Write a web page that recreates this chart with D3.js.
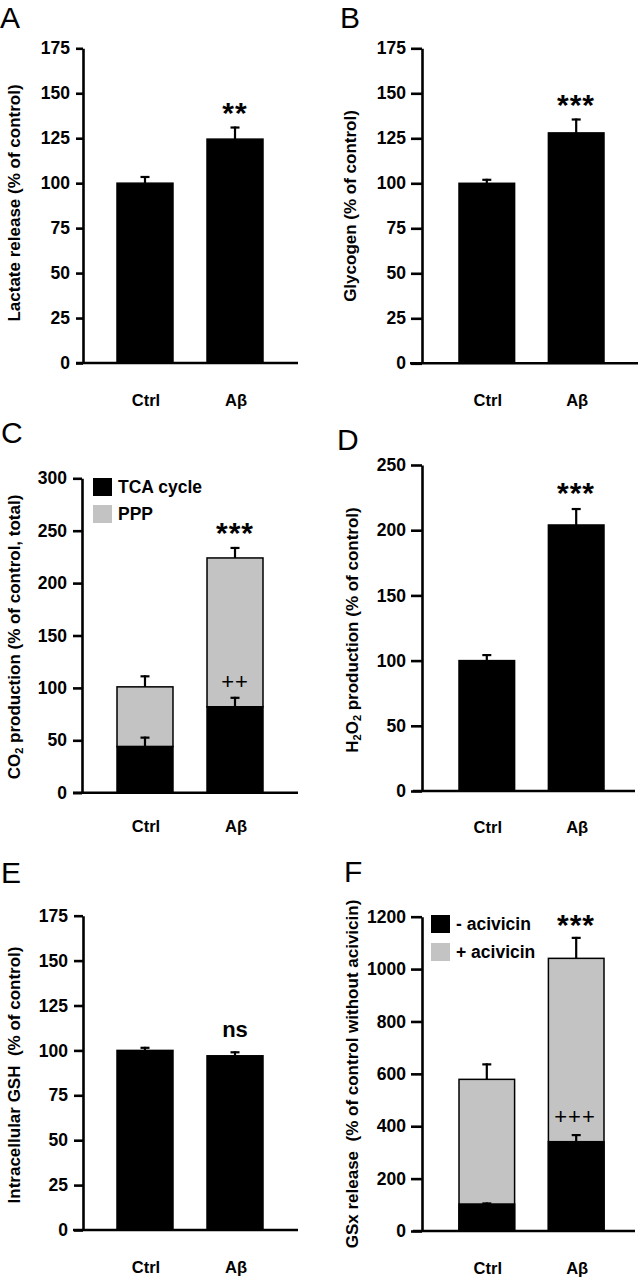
<!DOCTYPE html>
<html>
<head>
<meta charset="utf-8">
<script src="https://cdn.jsdelivr.net/npm/d3@7/dist/d3.min.js"></script>
<style>
  html, body { margin: 0; padding: 0; background: #fff; }
  svg { display: block; }
  text { font-family: "Liberation Sans", Arial, Helvetica, sans-serif; fill: #000; }
</style>
</head>
<body>
<div id="chart"></div>
<script>
// ---------- data ----------
const categories = ["Ctrl", "Aβ"];

const lactate = [100, 124.5];
const lactateErr = [4, 7];

const glycogen = [100, 128];
const glycogenErr = [2.5, 8];

const co2TCA = [44, 82];
const co2TCAErr = [9.5, 9.5];
const co2PPP = [57, 142];
const co2TotalErr = [11, 10.5];

const h2o2 = [100, 204];
const h2o2Err = [5, 13];

const gsh = [100, 97];
const gshErr = [2, 2.5];

const gsxMinus = [103, 341];
const gsxMinusErr = [6, 29];
const gsxPlus = [579, 1041];
const gsxPlusErr = [61, 82];

const ticks175 = [0, 25, 50, 75, 100, 125, 150, 175];
const ticks300 = [0, 50, 100, 150, 200, 250, 300];
const ticks250 = [0, 50, 100, 150, 200, 250];
const ticks1200 = [0, 200, 400, 600, 800, 1000, 1200];

const legendC = ["TCA cycle", "PPP"];
const legendF = ["- acivicin", "+ acivicin"];

const GRAY = "#c3c3c3";

// ---------- drawing ----------
const svg = d3.select("#chart").append("svg")
  .attr("width", 639).attr("height", 1280);

function panel(cfg) {
  const g = svg.append("g");
  const y = d3.scaleLinear().domain([0, cfg.max]).range([cfg.y0, cfg.yTop]);
  const x = d3.scaleBand().domain(categories).range(cfg.xr).paddingInner(0.378).paddingOuter(0);

  // panel letter
  g.append("text").attr("x", cfg.letter[0]).attr("y", cfg.letter[1])
    .attr("font-size", 30).attr("font-weight", "normal").text(cfg.name);

  // bars
  cfg.series.forEach(s => {
    g.selectAll(null).data(categories).enter().append("rect")
      .attr("x", c => x(c))
      .attr("width", x.bandwidth())
      .attr("y", (c, i) => y(s.base[i] + s.vals[i]))
      .attr("height", (c, i) => y(s.base[i]) - y(s.base[i] + s.vals[i]))
      .attr("fill", s.color)
      .attr("stroke", "#000").attr("stroke-width", 1.5);
  });
  // error bars
  cfg.errs.forEach(e => {
    categories.forEach((c, i) => {
      const cx = x(c) + x.bandwidth() / 2;
      const top = y(e.top[i] + e.err[i]);
      g.append("line").attr("x1", cx).attr("x2", cx)
        .attr("y1", y(e.top[i])).attr("y2", top)
        .attr("stroke", "#000").attr("stroke-width", 2.2);
      g.append("line").attr("x1", cx - 4.5).attr("x2", cx + 4.5)
        .attr("y1", top + 1).attr("y2", top + 1)
        .attr("stroke", "#000").attr("stroke-width", 2.2);
    });
  });

  // y axis
  const ax = g.append("g").attr("transform", `translate(${cfg.axisX},0)`)
    .call(d3.axisLeft(y).tickValues(cfg.ticks).tickFormat(d3.format("d"))
      .tickSize(cfg.tickLen).tickSizeOuter(0).tickPadding(cfg.pad));
  ax.select(".domain").attr("stroke-width", 2.6);
  ax.selectAll(".tick line").attr("stroke-width", 2.6);
  ax.selectAll(".tick text").attr("font-size", 17.5).attr("font-weight", "bold")
    .attr("font-family", '"Liberation Sans", Arial, sans-serif').attr("fill", "#000");

  // x axis baseline
  g.append("line").attr("x1", cfg.xAxis[0]).attr("x2", cfg.xAxis[1])
    .attr("y1", y(0)).attr("y2", y(0)).attr("stroke", "#000").attr("stroke-width", 2.6);

  // category labels
  g.selectAll(null).data(categories).enter().append("text")
    .attr("x", c => x(c) + x.bandwidth() / 2 + 1)
    .attr("y", cfg.catY)
    .attr("text-anchor", "middle").attr("font-size", 16.5).attr("font-weight", "bold")
    .text(c => c);

  // y title
  const t = g.append("text")
    .attr("transform", `translate(${cfg.title[0]},${cfg.title[1]}) rotate(-90)`)
    .attr("text-anchor", "middle").attr("dominant-baseline", "central")
    .attr("font-size", 17).attr("font-weight", "bold");
  cfg.titleParts.forEach(p => {
    const ts = t.append("tspan").text(p.t);
    if (p.sub) ts.attr("font-size", 11).attr("dy", 5);
    if (p.after) ts.attr("dy", -5);
  });

  // significance
  (cfg.marks || []).forEach(m => {
    g.append("text").attr("x", m.x).attr("y", m.y)
      .attr("text-anchor", "middle").attr("font-size", m.size)
      .attr("font-weight", m.weight).attr("letter-spacing", m.ls || 0)
      .text(m.t);
  });

  // legend
  if (cfg.legend) {
    cfg.legend.items.forEach((it, i) => {
      const ly = cfg.legend.y + i * cfg.legend.dy;
      g.append("rect").attr("x", cfg.legend.x).attr("y", ly)
        .attr("width", 19).attr("height", 18).attr("fill", it.color);
      g.append("text").attr("x", cfg.legend.x + 25).attr("y", ly + 9)
        .attr("dominant-baseline", "central").attr("font-size", 17.5)
        .attr("font-weight", "bold").text(it.t);
    });
  }
}

const zeros = [0, 0];
const star = (x, cy, t) => ({ x: x, y: cy + 16, t: t, size: 30, weight: "bold", ls: 1 });

// A
panel({
  name: "A", letter: [0, 27.5], max: 175, y0: 363, yTop: 48.3, ticks: ticks175,
  xr: [117, 263], axisX: 83, tickLen: 7, pad: 6, xAxis: [76, 298], catY: 406,
  series: [{ vals: lactate, base: zeros, color: "#000" }],
  errs: [{ top: lactate, err: lactateErr }],
  title: [14, 203], titleParts: [{ t: "Lactate release (% of control)" }],
  marks: [star(235, 107, "**")]
});
// B
panel({
  name: "B", letter: [340, 27.5], max: 175, y0: 363.3, yTop: 48.3, ticks: ticks175,
  xr: [459, 604], axisX: 422, tickLen: 11, pad: 5, xAxis: [410, 638], catY: 406,
  series: [{ vals: glycogen, base: zeros, color: "#000" }],
  errs: [{ top: glycogen, err: glycogenErr }],
  title: [350, 206], titleParts: [{ t: "Glycogen (% of control)" }],
  marks: [star(576, 99, "***")]
});
// C (stacked)
const co2Total = co2TCA.map((v, i) => v + co2PPP[i]);
panel({
  name: "C", letter: [1, 443], max: 300, y0: 792.7, yTop: 478.3, ticks: ticks300,
  xr: [117, 263], axisX: 82, tickLen: 9, pad: 6, xAxis: [73, 298], catY: 832,
  series: [
    { vals: co2PPP, base: co2TCA, color: GRAY },
    { vals: co2TCA, base: zeros, color: "#000" }
  ],
  errs: [{ top: co2TCA, err: co2TCAErr }, { top: co2Total, err: co2TotalErr }],
  title: [14, 637], titleParts: [{ t: "CO" }, { t: "2", sub: true }, { t: " production (% of control, total)", after: true }],
  marks: [star(235, 527, "***"), { x: 235, y: 689, t: "++", size: 22, weight: "normal", ls: 1 }],
  legend: { x: 93, y: 478, dy: 27, items: [{ t: legendC[0], color: "#000" }, { t: legendC[1], color: GRAY }] }
});
// D
panel({
  name: "D", letter: [337, 450], max: 250, y0: 791, yTop: 465, ticks: ticks250,
  xr: [459, 604], axisX: 422, tickLen: 11, pad: 5, xAxis: [413, 635], catY: 833,
  series: [{ vals: h2o2, base: zeros, color: "#000" }],
  errs: [{ top: h2o2, err: h2o2Err }],
  title: [352, 630], titleParts: [{ t: "H" }, { t: "2", sub: true }, { t: "O", after: true }, { t: "2", sub: true }, { t: " production (% of control)", after: true }],
  marks: [star(576, 487, "***")]
});
// E
panel({
  name: "E", letter: [1, 883], max: 175, y0: 1230, yTop: 915.7, ticks: ticks175,
  xr: [117, 263], axisX: 83, tickLen: 9, pad: 6, xAxis: [73, 298], catY: 1273,
  series: [{ vals: gsh, base: zeros, color: "#000" }],
  errs: [{ top: gsh, err: gshErr }],
  title: [14, 1075], titleParts: [{ t: "Intracellular GSH\u00a0\u00a0(% of control)" }],
  marks: [{ x: 235, y: 1037, t: "ns", size: 22, weight: "bold" }]
});
// F (overlay)
panel({
  name: "F", letter: [344, 882], max: 1200, y0: 1231, yTop: 916.7, ticks: ticks1200,
  xr: [459, 604], axisX: 422, tickLen: 11, pad: 5, xAxis: [413, 635], catY: 1274,
  series: [
    { vals: gsxPlus, base: zeros, color: GRAY },
    { vals: gsxMinus, base: zeros, color: "#000" }
  ],
  errs: [{ top: gsxMinus, err: gsxMinusErr }, { top: gsxPlus, err: gsxPlusErr }],
  title: [352, 1074], titleParts: [{ t: "GSx release\u00a0\u00a0(% of control without acivicin)" }],
  marks: [star(576, 919, "***"), { x: 575, y: 1124, t: "+++", size: 22, weight: "normal", ls: 1 }],
  legend: { x: 431, y: 915, dy: 28, items: [{ t: legendF[0], color: "#000" }, { t: legendF[1], color: GRAY }] }
});
</script>
</body>
</html>
